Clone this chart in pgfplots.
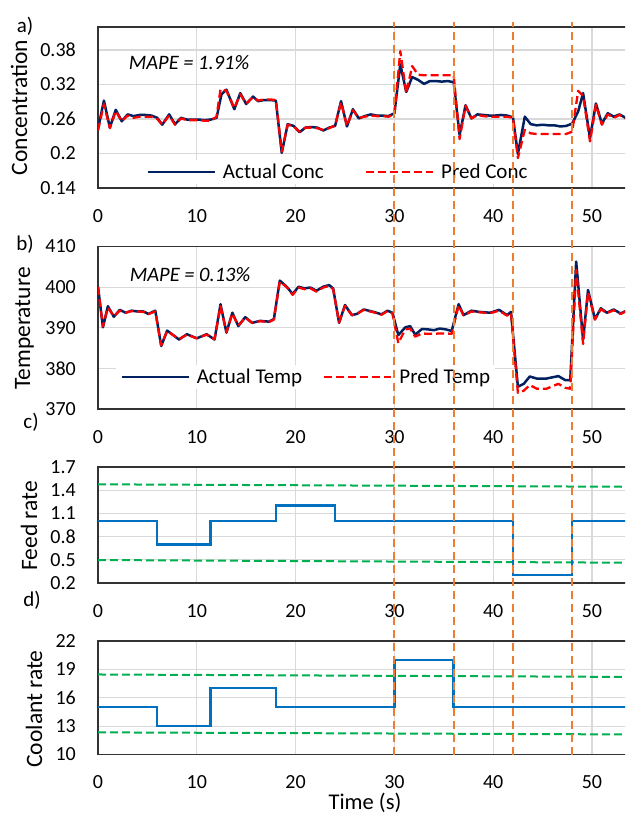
\documentclass[border=0pt]{standalone}
\usepackage{fontspec}
\setmainfont{Carlito}
\usepackage{pgfplots}
\pgfplotsset{compat=1.18}
\definecolor{navy}{HTML}{002060}
\definecolor{predred}{HTML}{FF0000}
\definecolor{stepblue}{HTML}{0070C0}
\definecolor{limgreen}{HTML}{00B050}
\definecolor{orng}{HTML}{ED7D31}
\definecolor{gridgray}{RGB}{217,217,217}
\pgfplotsset{
  panel/.style={
    scale only axis, width=533.5pt, xmin=0, xmax=54,
    xtick={0,10,20,30,40,50}, xticklabels={0,10,20,30,40,50},
    grid=major, major grid style={draw=gridgray, line width=1.2pt},
    axis line style={draw=black!80, line width=1.2pt},
    major tick length=0pt,
    /pgf/number format/assume math mode=true,
    tick label style={font=\fontsize{20}{24}\selectfont},
    xticklabel style={anchor=center, yshift=-28pt, inner sep=0pt},
    yticklabel style={anchor=east, xshift=-22pt, inner sep=0pt},
    legend columns=2,
    legend cell align=left,
    legend image code/.code={\draw[##1] (0pt,0pt) -- (67pt,0pt);},
    legend style={draw=none, fill=white, anchor=west,
      font=\fontsize{21}{25}\selectfont, inner xsep=4pt, inner ysep=3pt,
      nodes={inner sep=1pt},
      /tikz/every odd column/.append style={column sep=6pt}},
  },
  act/.style={navy, line width=2.5pt, line join=round},
  pred/.style={predred, line width=2.3pt, dash pattern=on 8pt off 4pt, line join=round},
  stp/.style={stepblue, line width=2.4pt},
  lim/.style={limgreen, line width=2pt, dash pattern=on 8pt off 4pt},
}
\begin{document}
\begin{tikzpicture}
\useasboundingbox (0,0) rectangle (625pt,815pt);
\clip (0,0) rectangle (625pt,815pt);

% ---------- a) concentration ----------
\begin{axis}[panel, at={(98pt,627pt)}, anchor=south west, height=161pt,
  ymin=0.14, ymax=0.42, ytick={0.14,0.2,0.26,0.32,0.38},
  yticklabels={0.14,0.2,0.26,0.32,0.38},
  legend style={at={(axis description cs:0.083,0.099)},
    /tikz/every even column/.append style={column sep=40pt}}]
\addplot[act] coordinates {
(0,0.243) (0.6,0.292) (1.2,0.245) (1.8,0.276) (2.4,0.256) (3.0,0.268) (3.6,0.265)
(4.2,0.267) (4.8,0.267) (5.4,0.266) (6.0,0.262) (6.5,0.250) (7.2,0.268) (7.8,0.251)
(8.4,0.262) (9.0,0.259) (9.6,0.259) (10.2,0.259) (10.8,0.258) (11.4,0.259) (12.0,0.262)
(12.5,0.303) (13.0,0.311) (13.8,0.277) (14.4,0.305) (15.0,0.286) (15.7,0.299) (16.2,0.291)
(16.8,0.293) (17.4,0.293) (18.0,0.292) (18.6,0.201) (19.2,0.251) (19.8,0.248) (20.4,0.237)
(21.0,0.245) (21.6,0.246) (22.2,0.245) (22.8,0.240) (23.4,0.245) (24.0,0.248) (24.6,0.291)
(25.2,0.247) (25.8,0.277) (26.4,0.261) (27.0,0.265) (27.6,0.268) (28.2,0.266) (28.8,0.266)
(29.4,0.265) (30.0,0.270) (30.6,0.355) (31.2,0.307) (31.8,0.333) (32.4,0.328) (33.0,0.321)
(33.6,0.326) (34.2,0.326) (34.8,0.325) (35.4,0.326) (36.0,0.324) (36.6,0.232) (37.2,0.284)
(37.8,0.261) (38.4,0.268) (39.0,0.267) (39.6,0.266) (40.2,0.266) (40.8,0.267) (41.4,0.266)
(42.0,0.263) (42.5,0.199) (43.2,0.264) (43.8,0.251) (44.4,0.249) (45.0,0.250) (45.6,0.249)
(46.2,0.249) (46.8,0.247) (47.4,0.248) (48.0,0.252) (48.6,0.273) (49.1,0.305) (49.8,0.227)
(50.4,0.287) (51.0,0.252) (51.6,0.270) (52.2,0.264) (52.8,0.268) (53.4,0.262)};
\addlegendentry{Actual Conc}
\addplot[pred] coordinates {
(0,0.240) (0.6,0.286) (1.2,0.244) (1.8,0.274) (2.4,0.256) (3.0,0.266) (3.6,0.262)
(4.2,0.264) (4.8,0.264) (5.4,0.264) (6.0,0.260) (6.5,0.250) (7.2,0.266) (7.8,0.250)
(8.4,0.261) (9.0,0.258) (9.6,0.258) (10.2,0.258) (10.8,0.257) (11.4,0.257) (12.0,0.264)
(12.4,0.312) (13.0,0.309) (13.8,0.279) (14.4,0.303) (15.0,0.287) (15.7,0.298) (16.2,0.292)
(16.8,0.294) (17.4,0.294) (18.0,0.293) (18.6,0.203) (19.2,0.250) (19.8,0.247) (20.4,0.238)
(21.0,0.245) (21.6,0.245) (22.2,0.244) (22.8,0.241) (23.4,0.244) (24.0,0.249) (24.6,0.289)
(25.2,0.248) (25.8,0.275) (26.4,0.262) (27.0,0.264) (27.6,0.266) (28.2,0.265) (28.8,0.265)
(29.4,0.264) (30.0,0.268) (30.6,0.378) (31.2,0.305) (31.8,0.352) (32.4,0.337) (33.0,0.336)
(33.6,0.336) (34.2,0.336) (34.8,0.336) (35.4,0.336) (36.0,0.336) (36.6,0.225) (37.2,0.283)
(37.8,0.261) (38.4,0.267) (39.0,0.265) (39.6,0.264) (40.2,0.264) (40.8,0.264) (41.4,0.264)
(42.0,0.262) (42.5,0.192) (43.2,0.241) (43.8,0.235) (44.4,0.234) (45.0,0.234) (45.6,0.234)
(46.2,0.234) (46.8,0.234) (47.4,0.234) (48.0,0.238) (48.6,0.309) (49.1,0.300) (49.8,0.221)
(50.4,0.285) (51.0,0.250) (51.6,0.268) (52.2,0.262) (52.8,0.267) (53.4,0.261)};
\addlegendentry{Pred Conc}
\end{axis}

% ---------- b) temperature ----------
\begin{axis}[panel, at={(98pt,406pt)}, anchor=south west, height=162.5pt,
  ymin=370, ymax=410, ytick={370,380,390,400,410},
  yticklabels={370,380,390,400,410},
  legend style={at={(axis description cs:0.034,0.197)},
    /tikz/every even column/.append style={column sep=20pt}}]
\addplot[act] coordinates {
(0,400.1) (0.5,390.1) (1.0,395.3) (1.6,392.7) (2.2,394.4) (2.8,393.7) (3.4,394.2)
(4.0,394.0) (4.6,394.0) (5.1,393.4) (5.8,394.2) (6.4,385.5) (7.0,389.3) (7.6,388.2)
(8.2,387.1) (9.0,388.4) (10.0,387.4) (11.0,388.4) (11.8,387.1) (12.4,395.8) (13.0,388.8)
(13.6,393.7) (14.2,390.4) (14.9,392.6) (15.6,391.2) (16.4,391.7) (17.3,391.5) (17.8,392.1)
(18.4,401.6) (19.1,400.1) (19.7,398.3) (20.3,400.1) (20.9,399.7) (21.5,399.9) (22.1,399.1)
(22.8,400.1) (23.4,400.5) (23.8,399.7) (24.4,391.2) (25.0,395.6) (25.7,393.1) (26.2,393.4)
(26.9,394.5) (27.9,393.9) (28.7,393.3) (29.3,394.2) (29.8,393.7) (30.4,388.2) (31.1,390.1)
(31.6,390.4) (32.1,388.3) (32.8,389.7) (33.4,389.6) (34.0,389.4) (34.6,389.8) (35.2,389.6)
(35.8,389.2) (36.5,395.8) (37.0,393.1) (37.8,394.2) (38.6,393.9) (39.7,393.7) (40.6,394.4)
(41.4,393.1) (41.8,393.9) (42.5,375.5) (43.1,376.2) (43.7,378.0) (44.4,377.5) (45.4,377.5)
(46.6,378.1) (47.3,377.1) (47.8,377.1) (48.4,406.3) (49.1,387.0) (49.6,399.3) (50.3,392.1)
(50.9,394.8) (51.5,393.7) (52.2,394.5) (52.9,393.5) (53.4,394.1)};
\addlegendentry{Actual Temp}
\addplot[pred] coordinates {
(0,400.0) (0.5,390.3) (1.0,395.0) (1.6,392.8) (2.2,394.2) (2.8,393.7) (3.4,394.1)
(4.0,394.0) (4.6,393.9) (5.1,393.4) (5.8,394.0) (6.4,385.7) (7.0,389.2) (7.6,388.2)
(8.2,387.2) (9.0,388.3) (10.0,387.4) (11.0,388.3) (11.8,387.2) (12.4,395.3) (13.0,388.9)
(13.6,393.5) (14.2,390.5) (14.9,392.5) (15.6,391.2) (16.4,391.6) (17.3,391.4) (17.8,392.0)
(18.4,401.4) (19.1,400.0) (19.7,398.1) (20.3,399.9) (20.9,399.5) (21.5,399.7) (22.1,398.9)
(22.8,399.9) (23.4,400.3) (23.8,399.5) (24.4,391.3) (25.0,395.4) (25.7,393.1) (26.2,393.4)
(26.9,394.4) (27.9,393.8) (28.7,393.2) (29.3,394.1) (29.8,393.6) (30.4,386.2) (31.1,389.6)
(31.6,389.8) (32.1,387.8) (32.8,388.6) (33.4,388.5) (34.0,388.5) (34.6,388.6) (35.2,388.6)
(35.8,388.5) (36.5,395.5) (37.0,393.0) (37.8,394.0) (38.6,393.8) (39.7,393.6) (40.6,394.2)
(41.4,393.0) (41.8,393.7) (42.5,374.0) (43.1,374.5) (43.7,375.9) (44.4,375.0) (45.4,375.0)
(46.6,376.2) (47.3,375.2) (47.8,375.0) (48.4,404.2) (49.1,386.0) (49.6,398.8) (50.3,392.0)
(50.9,394.6) (51.5,393.6) (52.2,394.3) (52.9,393.4) (53.4,394.0)};
\addlegendentry{Pred Temp}
\end{axis}

% ---------- c) feed rate ----------
\begin{axis}[panel, at={(98pt,232pt)}, anchor=south west, height=116pt,
  ymin=0.2, ymax=1.7, ytick={0.2,0.5,0.8,1.1,1.4,1.7},
  yticklabels={0.2,0.5,0.8,1.1,1.4,1.7}]
\addplot[lim] coordinates {(0,1.476) (54,1.444)};
\addplot[lim] coordinates {(0,0.497) (54,0.462)};
\addplot[stp] coordinates {(0,1.0) (6,1.0) (6,0.7) (11.4,0.7) (11.4,1.0) (18,1.0)
 (18,1.2) (24,1.2) (24,1.0) (42,1.0) (42,0.3) (48,0.3) (48,1.0) (54,1.0)};
\end{axis}

% ---------- d) coolant rate ----------
\begin{axis}[panel, at={(98pt,60.5pt)}, anchor=south west, height=113.5pt,
  ymin=10, ymax=22, ytick={10,13,16,19,22},
  yticklabels={10,13,16,19,22}]
\addplot[lim] coordinates {(0,18.46) (54,18.20)};
\addplot[lim] coordinates {(0,12.34) (54,12.12)};
\addplot[stp] coordinates {(0,15) (6,15) (6,13) (11.4,13) (11.4,17) (18,17)
 (18,15) (30,15) (30,20) (36,20) (36,15) (54,15)};
\end{axis}

% ---------- orange step-change markers across panels ----------
\begin{axis}[at={(98pt,60pt)}, anchor=south west, scale only axis,
  width=533.5pt, height=733pt, xmin=0, xmax=54, ymin=0, ymax=1,
  hide axis, clip=false]
\addplot[orng, line width=2pt, dash pattern=on 8pt off 5pt] coordinates {(30,0) (30,1)};
\addplot[orng, line width=2pt, dash pattern=on 8pt off 5pt] coordinates {(36,0) (36,1)};
\addplot[orng, line width=2pt, dash pattern=on 8pt off 5pt] coordinates {(42,0) (42,1)};
\addplot[orng, line width=2pt, dash pattern=on 8pt off 5pt] coordinates {(48,0) (48,1)};
\end{axis}

% ---------- texts ----------
\begin{scope}[every node/.style={inner sep=0pt}]
\node[font=\fontsize{21}{25}\selectfont] at (25pt,788.5pt) {a)};
\node[font=\fontsize{21}{25}\selectfont] at (25pt,571pt) {b)};
\node[font=\fontsize{21}{25}\selectfont] at (31pt,393pt) {c)};
\node[font=\fontsize{21}{25}\selectfont] at (32pt,215pt) {d)};
\node[rotate=90, font=\fontsize{23.5}{28}\selectfont] at (19pt,707.5pt) {Concentration};
\node[rotate=90, font=\fontsize{23.5}{28}\selectfont] at (24.5pt,486.5pt) {Temperature};
\node[rotate=90, font=\fontsize{23.5}{28}\selectfont] at (29pt,289pt) {Feed rate};
\node[rotate=90, font=\fontsize{23.5}{28}\selectfont] at (34pt,106pt) {Coolant rate};
\node[font=\fontsize{22.5}{27}\selectfont] at (365pt,12pt) {Time (s)};
\node[font=\itshape\fontsize{20.5}{25}\selectfont] at (189pt,752pt) {MAPE = 1.91\%};
\node[font=\itshape\fontsize{20.5}{25}\selectfont] at (190pt,540pt) {MAPE = 0.13\%};
\end{scope}
\end{tikzpicture}
\end{document}
